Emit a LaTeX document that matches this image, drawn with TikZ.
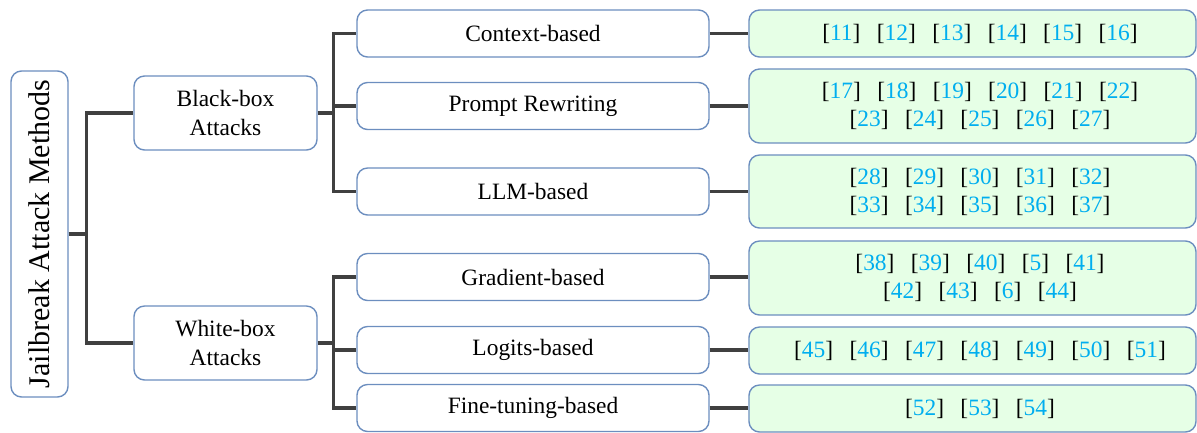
\documentclass[tikz,border=0pt]{standalone}
\usepackage{fontspec}
\setmainfont{Liberation Serif}
\usetikzlibrary{positioning, calc}

\definecolor{boxblue}{HTML}{6C8EBF}
\definecolor{refgreen}{HTML}{E6FFE6}
\definecolor{linegray}{HTML}{404040}
\definecolor{refcyan}{HTML}{00AEEF}
\newcommand{\rf}[1]{[\textcolor{refcyan}{#1}]}
\newcommand{\gp}{\hspace{0.7em}}
\newcommand{\sh}{\hspace*{0.225cm}}

\tikzset{
  catbox/.style={draw=boxblue, line width=0.6pt, rounded corners=4.5pt, fill=white, align=center, inner sep=2pt},
  methbox/.style={catbox, minimum width=5.28cm, minimum height=0.705cm},
  refbox/.style={catbox, fill=refgreen, minimum width=6.705cm},
  conn/.style={draw=linegray, line width=1.3pt},
}

\begin{document}
\begin{tikzpicture}[x=0.015cm, y=-0.015cm]
  \useasboundingbox (0,0) rectangle (1197,432);

  % Root (rotated, so its south anchor is on the right)
  \node[catbox, rotate=90, minimum width=4.89cm, minimum height=0.855cm,
        font=\fontsize{12.8}{15}\selectfont] (root) at (39.5,234) {Jailbreak Attack Methods};

  % Attack families
  \node[catbox, minimum width=2.745cm, minimum height=1.11cm] (bb) at (225.5,113) {Black-box\\Attacks};
  \node[catbox, minimum width=2.745cm, minimum height=1.11cm] (wb) at (225.5,343) {White-box\\Attacks};

  % Methods
  \node[methbox] (ctx) at (533,33.5) {Context-based};
  \node[methbox] (pr)  at (533,106)  {Prompt Rewriting};
  \node[methbox] (llm) at (533,191.5) {LLM-based};
  \node[methbox] (gr)  at (533,277)  {Gradient-based};
  \node[methbox] (lg)  at (533,350)  {Logits-based};
  \node[methbox] (ft)  at (533,408)  {Fine-tuning-based};

  % References
  \node[refbox, minimum height=0.705cm] (rctx) at (972.5,33.5)
    {\sh\rf{11}\gp\rf{12}\gp\rf{13}\gp\rf{14}\gp\rf{15}\gp\rf{16}};
  \node[refbox, minimum height=1.11cm] (rpr) at (972.5,106)
    {\sh\rf{17}\gp\rf{18}\gp\rf{19}\gp\rf{20}\gp\rf{21}\gp\rf{22}\\
     \sh\rf{23}\gp\rf{24}\gp\rf{25}\gp\rf{26}\gp\rf{27}};
  \node[refbox, minimum height=1.095cm] (rllm) at (972.5,191.5)
    {\sh\rf{28}\gp\rf{29}\gp\rf{30}\gp\rf{31}\gp\rf{32}\\
     \sh\rf{33}\gp\rf{34}\gp\rf{35}\gp\rf{36}\gp\rf{37}};
  \node[refbox, minimum height=1.11cm] (rgr) at (972.5,278)
    {\sh\rf{38}\gp\rf{39}\gp\rf{40}\gp\rf{5}\gp\rf{41}\\
     \sh\rf{42}\gp\rf{43}\gp\rf{6}\gp\rf{44}};
  \node[refbox, minimum height=0.705cm] (rlg) at (972.5,350.5)
    {\sh\rf{45}\gp\rf{46}\gp\rf{47}\gp\rf{48}\gp\rf{49}\gp\rf{50}\gp\rf{51}};
  \node[refbox, minimum height=0.705cm] (rft) at (972.5,408.5)
    {\sh\rf{52}\gp\rf{53}\gp\rf{54}};

  % Tree connectors
  \draw[conn] (root.south) -- ++(18,0) coordinate (rj) |- (bb.west);
  \draw[conn] (rj) |- (wb.west);
  \draw[conn] (bb.east) -- ++(16,0) coordinate (bj) |- (ctx.west);
  \draw[conn] (bj) |- (pr.west);
  \draw[conn] (bj) |- (llm.west);
  \draw[conn] (wb.east) -- ++(16,0) coordinate (wj) |- (gr.west);
  \draw[conn] (wj) |- (lg.west);
  \draw[conn] (wj) |- (ft.west);
  \foreach \a/\b in {ctx/rctx, pr/rpr, llm/rllm, gr/rgr, lg/rlg, ft/rft}
    \draw[conn] (\a.east) -- (\a.east -| \b.west);
\end{tikzpicture}
\end{document}
